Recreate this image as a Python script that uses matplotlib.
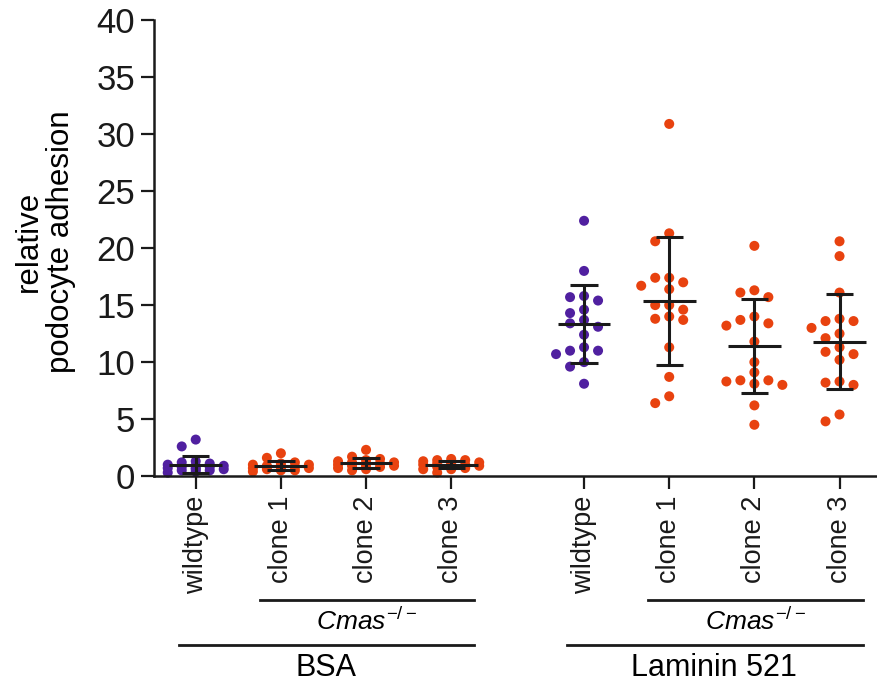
import numpy as np
import matplotlib
matplotlib.use("Agg")
import matplotlib.pyplot as plt

plt.rcParams['font.family'] = ['Liberation Sans', 'DejaVu Sans']
plt.rcParams['mathtext.fontset'] = 'custom'
plt.rcParams['mathtext.rm'] = 'Liberation Sans'
plt.rcParams['mathtext.it'] = 'Liberation Sans:italic'

# values (relative podocyte adhesion)
strains = ['wildtype', 'clone 1', 'clone 2', 'clone 3']
coatings = ['BSA', 'Laminin 521']

bsa_wt = [3.2, 2.6, 1.3, 1.2, 1.1, 1.0, 0.9, 0.9, 0.8, 0.8, 0.7, 0.7, 0.6, 0.6, 0.5, 0.5, 0.4, 0.3]
bsa_c1 = [2.0, 1.6, 1.2, 1.1, 1.0, 1.0, 0.9, 0.9, 0.8, 0.8, 0.8, 0.7, 0.7, 0.6, 0.6, 0.5, 0.5, 0.4]
bsa_c2 = [2.3, 1.7, 1.5, 1.4, 1.3, 1.2, 1.2, 1.1, 1.1, 1.0, 1.0, 0.9, 0.9, 0.8, 0.8, 0.7, 0.6, 0.5]
bsa_c3 = [1.5, 1.4, 1.4, 1.3, 1.2, 1.2, 1.1, 1.0, 1.0, 1.0, 0.9, 0.9, 0.8, 0.8, 0.7, 0.6, 0.6, 0.3]

lam_wt = [22.4, 18.0, 15.7, 15.8, 15.4, 14.6, 14.3, 13.7, 13.4, 13.1, 12.4, 11.3, 11.0, 11.0,
          10.7, 10.0, 9.6, 8.1]
lam_c1 = [30.9, 21.3, 20.6, 17.4, 17.4, 16.7, 17.0, 16.4, 15.0, 15.0, 14.6, 13.8, 13.7, 14.0,
          11.3, 8.7, 6.4, 7.0]
lam_c2 = [20.2, 16.3, 16.1, 15.7, 14.0, 13.7, 13.4, 13.2, 11.8, 10.0, 9.1, 8.3, 8.4, 8.4,
          8.1, 8.0, 6.2, 4.5]
lam_c3 = [20.6, 19.3, 16.1, 13.8, 13.6, 13.6, 13.0, 12.5, 12.1, 11.3, 10.9, 10.7, 10.2, 8.2,
          8.0, 8.3, 5.4, 4.8]

series = [bsa_wt, bsa_c1, bsa_c2, bsa_c3, lam_wt, lam_c1, lam_c2, lam_c3]
positions = [0, 1, 2, 3, 4.56, 5.56, 6.56, 7.56]

purple = '#5020a0'
orange = '#e8420f'
colors = [purple, orange, orange, orange] * 2

fig = plt.figure(figsize=(8.77, 6.97), dpi=100)
ax = fig.add_axes([0.1756, 0.317, 0.8244, 0.654])
ax.set_xlim(-0.49, 8.0)
ax.set_ylim(0, 40)


def swarm(x0, vals, step_px=14.0, dia_px=9.5):
    # prism-like column scatter in pixel space; overlap allowed when crowded
    pts = ax.transData.transform([(x0, v) for v in vals])
    order = np.argsort(-np.asarray(vals))
    placed = []
    out = np.zeros(len(vals))
    for i in order:
        py = pts[i, 1]
        best, best_d = pts[i, 0], -1
        for k in [0, -1, 1, -2, 2]:
            px = pts[i, 0] + k * step_px
            d = min([np.hypot(px - qx, py - qy) for qx, qy in placed] + [1e9])
            if d >= dia_px:
                best = px
                break
            if d > best_d + 2:
                best, best_d = px, d
        placed.append((best, py))
        out[i] = best
    inv = ax.transData.inverted()
    return [inv.transform((x, pts[0, 1]))[0] for x in out]


for pos, vals, c in zip(positions, series, colors):
    xs = swarm(pos, vals)
    ax.scatter(xs, vals, s=52, color=c, edgecolors='none', zorder=2, clip_on=False)
    m = np.mean(vals)
    sd = np.std(vals, ddof=1)
    ax.hlines(m, pos - 0.31, pos + 0.31, color='#1a1a1a', lw=2.2, zorder=3)
    ax.vlines(pos, m - sd, m + sd, color='#1a1a1a', lw=2.2, zorder=3)
    ax.hlines([m - sd, m + sd], pos - 0.16, pos + 0.16, color='#1a1a1a', lw=2.2, zorder=3)

for s in ['top', 'right']:
    ax.spines[s].set_visible(False)
for s in ['left', 'bottom']:
    ax.spines[s].set_linewidth(1.8)
    ax.spines[s].set_color('#1a1a1a')

ax.set_yticks(range(0, 41, 5))
ax.tick_params(axis='y', length=9.5, width=1.6, pad=4, labelsize=25, colors='#1a1a1a')
ax.set_xticks(positions)
ax.set_xticklabels(strains * 2, rotation=90, fontsize=19.5)
ax.tick_params(axis='x', length=9, width=1.6, pad=5, colors='#1a1a1a')

ax.set_ylabel('relative\npodocyte adhesion', fontsize=22.5, linespacing=1.1)
ax.yaxis.set_label_coords(-0.108, 0.515)

# group brackets under the axis
tr = ax.get_xaxis_transform()
for g, name in enumerate(coatings):
    wt = positions[4 * g]
    c1 = positions[4 * g + 1]
    c3 = positions[4 * g + 3]
    ax.plot([c1 - 0.25, c3 + 0.27], [-0.272, -0.272], color='#1a1a1a', lw=2, transform=tr, clip_on=False)
    ax.text((c1 + c3) / 2 + 0.01, -0.32, r'$\mathit{Cmas}^{-/-}$', fontsize=19, ha='center', va='center',
            transform=tr)
    ax.plot([wt - 0.2, c3 + 0.27], [-0.371, -0.371], color='#1a1a1a', lw=2, transform=tr, clip_on=False)
    ax.text((wt + c3) / 2 + 0.03, -0.42, name, fontsize=22, ha='center', va='center', transform=tr)

fig.savefig('out.png', dpi=100)
